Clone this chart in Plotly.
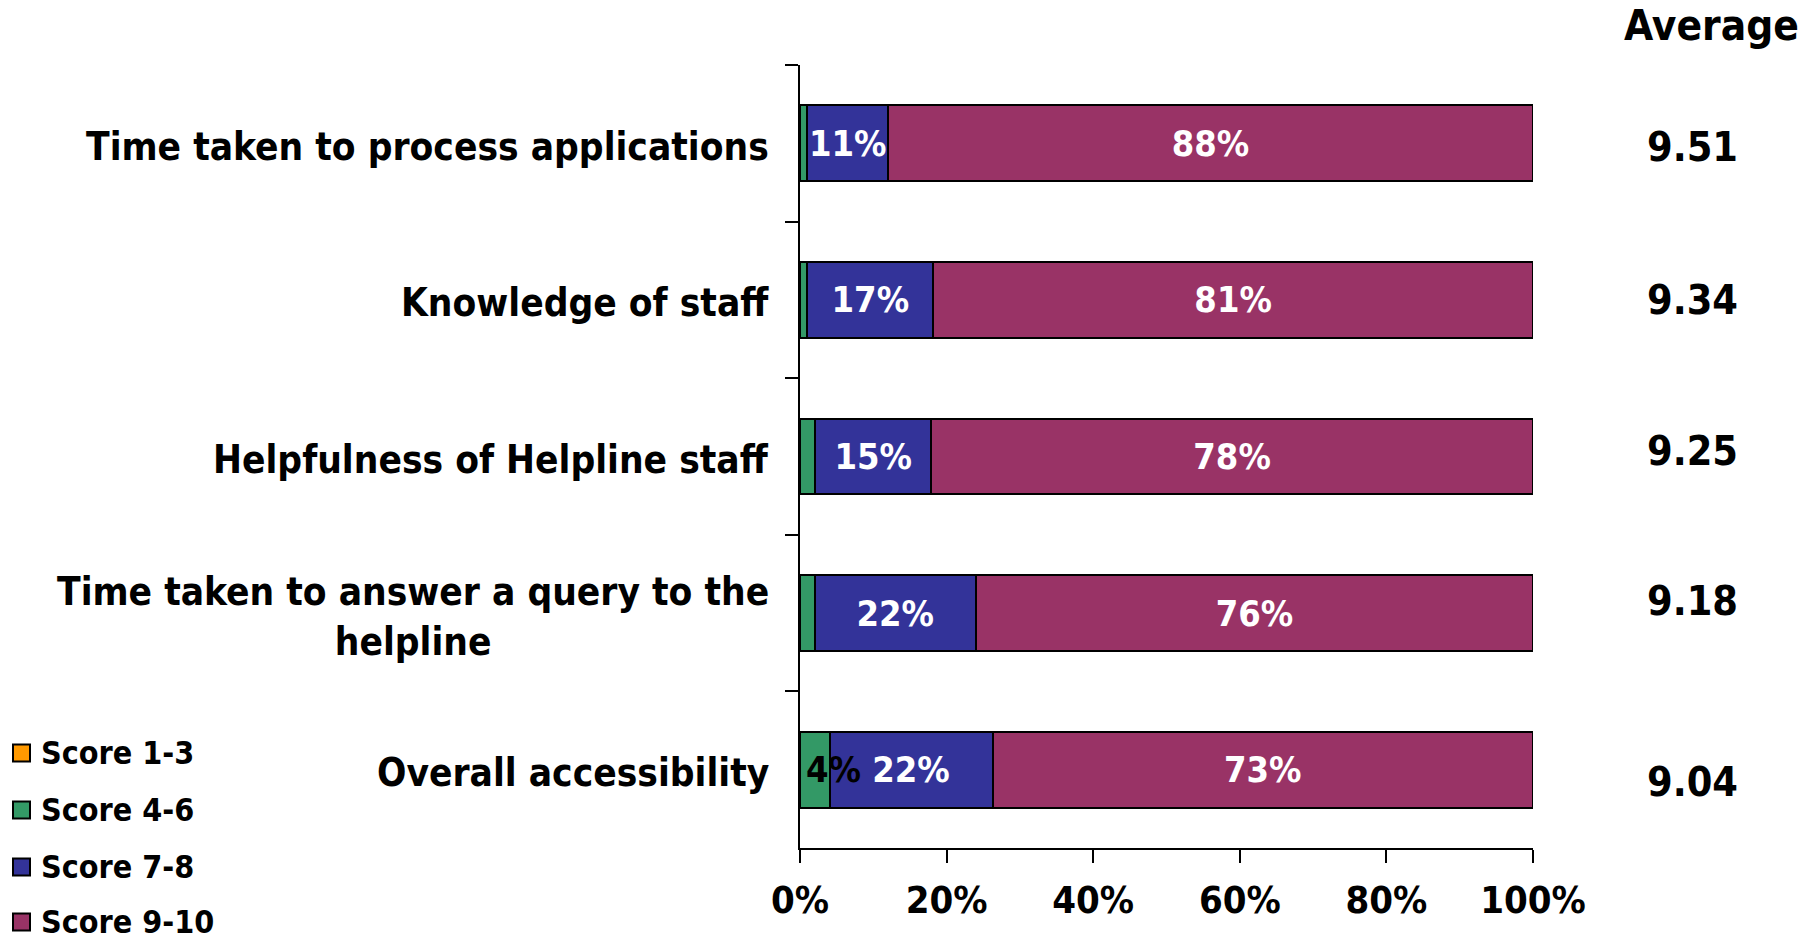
import plotly.graph_objects as go

# ---- data ----
categories = [
    "Time taken to process applications",
    "Knowledge of staff",
    "Helpfulness of Helpline staff",
    "Time taken to answer a query to the<br>helpline",
    "Overall accessibility",
]
series_names = ["Score 1-3", "Score 4-6", "Score 7-8", "Score 9-10"]
score_1_3 = [0, 0, 0, 0, 0]
score_4_6 = [1, 1, 2, 2, 4]
score_7_8 = [11, 17, 15, 22, 22]
score_9_10 = [88, 81, 78, 76, 73]
averages = [9.51, 9.34, 9.25, 9.18, 9.04]
x_ticks = [0, 20, 40, 60, 80, 100]

# ---- styling ----
colors = ["#FF9900", "#339966", "#333399", "#993366"]
FONT = "DejaVu Sans Condensed, DejaVu Sans, Verdana, sans-serif"
W, H = 1812, 946
L, R, T, B = 800, 279, 65, 98
plot_w, plot_h = W - L - R, H - T - B

def px_x(px):
    return (px - L) / plot_w

def px_y(py):
    return (H - B - py) / plot_h

series = [score_1_3, score_4_6, score_7_8, score_9_10]
labelled = [False, False, True, True]

fig = go.Figure()
for name, vals, col, lab in zip(series_names, series, colors, labelled):
    fig.add_trace(go.Bar(
        y=categories,
        x=vals,
        name=name,
        orientation="h",
        marker=dict(color=col, line=dict(color="black", width=2)),
        text=[f"{v}%" for v in vals] if lab else None,
        textposition="inside" if lab else "none",
        insidetextanchor="middle",
        textangle=0,
        textfont=dict(family=FONT, size=36, color="white", weight="bold"),
        showlegend=False,
        hoverinfo="x+y+name",
    ))

annotations = []

# category labels (centered multi-line text, right-aligned block)
for cat in categories:
    annotations.append(dict(
        x=0, xref="paper", y=cat, yref="y", yshift=-3,
        text=cat, showarrow=False, xanchor="right", yanchor="middle",
        align="center", xshift=-29,
        font=dict(family=FONT, size=38.5, color="black", weight="bold"),
    ))

# labels for Score 4-6 segments wide enough to be worth naming
for cat, v in zip(categories, score_4_6):
    if v >= 3:
        annotations.append(dict(
            x=0, xref="x", y=cat, yref="y",
            text=f"{v}%", showarrow=False, xanchor="left", yanchor="middle",
            xshift=4,
            font=dict(family=FONT, size=36, color="black", weight="bold"),
        ))

# average column
annotations.append(dict(
    x=px_x(1711), xref="paper", y=px_y(25), yref="paper",
    text="Average", showarrow=False, xanchor="center", yanchor="middle",
    font=dict(family=FONT, size=42, color="black", weight="bold"),
))
avg_yshift = [-4, 0, 6, 12, -12]
for cat, a, ys in zip(categories, averages, avg_yshift):
    annotations.append(dict(
        x=px_x(1692), xref="paper", y=cat, yref="y", yshift=ys,
        text=f"{a:.2f}", showarrow=False, xanchor="center", yanchor="middle",
        font=dict(family=FONT, size=41, color="black", weight="bold"),
    ))

# legend drawn as swatches + text
shapes = []
legend_rows = [753, 810, 867, 922]
for name, col, cy in zip(series_names, colors, legend_rows):
    shapes.append(dict(
        type="rect", xref="paper", yref="paper",
        x0=px_x(13), x1=px_x(30), y0=px_y(cy + 8.5), y1=px_y(cy - 8.5),
        fillcolor=col, line=dict(color="black", width=2),
    ))
    annotations.append(dict(
        x=px_x(40), xref="paper", y=px_y(cy), yref="paper",
        text=name, showarrow=False, xanchor="left", yanchor="middle",
        borderpad=0,
        font=dict(family=FONT, size=32, color="black", weight="bold"),
    ))

fig.update_layout(
    width=W, height=H,
    margin=dict(l=L, r=R, t=T, b=B, pad=0),
    barmode="stack",
    barnorm="percent",
    bargap=0.515,
    plot_bgcolor="white",
    paper_bgcolor="white",
    uniformtext=dict(mode="show", minsize=36),
    annotations=annotations,
    shapes=shapes,
    showlegend=False,
    font=dict(family=FONT, color="black"),
)
fig.update_xaxes(
    range=[0, 100],
    tickvals=x_ticks,
    ticktext=[f"{t}%" for t in x_ticks],
    showgrid=False, zeroline=False,
    showline=True, linecolor="black", linewidth=2,
    ticks="outside", ticklen=13, tickwidth=2, tickcolor="black",
    tickfont=dict(family=FONT, size=38, color="black", weight="bold"),
    ticklabelstandoff=4,
)
fig.update_yaxes(
    categoryorder="array", categoryarray=categories,
    autorange="reversed",
    showgrid=False, zeroline=False,
    showline=True, linecolor="black", linewidth=2,
    ticks="outside", ticklen=13, tickwidth=2, tickcolor="black",
    tickson="boundaries",
    showticklabels=False,
)

fig.write_html("out.html")
